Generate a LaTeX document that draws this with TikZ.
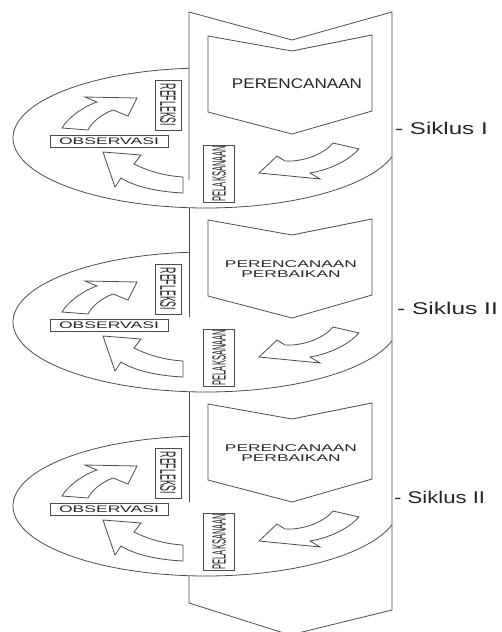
\documentclass[tikz,border=0pt]{standalone}
\usepackage{fontspec}
\setmainfont{Liberation Sans}
\usepackage{graphicx}
\definecolor{ink}{HTML}{4D4D4D}
\definecolor{txt}{HTML}{262626}
% horizontally scaled caption text: #1 = x-scale, #2 = font size, #3 = text
\newcommand{\stretchtext}[3]{\scalebox{#1}[1]{\fontsize{#2}{#2}\selectfont #3}}

\begin{document}
\begin{tikzpicture}[x=1pt, y=-1pt,
  edge/.style={draw=ink, line width=0.8pt, line join=miter},
  blockarrow/.style={edge, fill=white},
  labelbox/.style={draw=ink, line width=0.8pt, fill=white, inner sep=0pt, text=txt},
  plain/.style={inner sep=0pt, text=txt}]
\useasboundingbox (0,0) rectangle (501,632);
\clip (0,0) rectangle (501,632);

% the long chevron band that carries the cycles
\draw[edge] (189,180) -- (189,12) -- (292,40) -- (392,12) -- (392,610) -- (290,635) -- (189,603) -- (189,576);
\draw[edge] (189,208) -- (189,317);
\draw[edge] (189,392) -- (189,502);

\foreach \o/\k in {0/1,184/2,368/3}{
  % disc of the cycle (visible part only)
  \draw[edge] plot[domain=15.7:265, samples=90, smooth] ({206+193*cos(\x)},{138+\o+70*sin(\x)});
  % planning chevron
  \draw[edge] (208,{36+\o}) -- (292,{51+\o}) -- (372,{35+\o}) -- (372,{111+\o}) -- (292,{134+\o}) -- (208,{112+\o}) -- cycle;
  % arrow towards PELAKSANAAN
  \draw[blockarrow] (259,{173+\o}) -- (277,{156+\o}) -- (285,{161+\o})
     .. controls (300,{162+\o}) and (322,{156+\o}) .. (333,{143+\o})
     -- (359,{149+\o})
     .. controls (347,{162+\o}) and (328,{170+\o}) .. (310,{173+\o})
     -- (320,{179+\o}) -- cycle;
  % arrow towards OBSERVASI
  \draw[blockarrow] (103,{152+\o}) -- (141,{155+\o}) -- (134,{164+\o})
     .. controls (148,{171+\o}) and (165,{176+\o}) .. (183,{177+\o})
     -- (183,{193+\o})
     .. controls (160,{192+\o}) and (135,{187+\o}) .. (121,{178+\o})
     -- (115,{187+\o}) -- cycle;
  % arrow towards REFLEKSI
  \draw[blockarrow] (62,{128+\o})
     .. controls (67,{119+\o}) and (82,{107+\o}) .. (97,{102+\o})
     -- (85,{97+\o}) -- (137,{98+\o}) -- (128,{116+\o}) -- (113,{110+\o})
     .. controls (102,{114+\o}) and (92,{122+\o}) .. (88,{130+\o}) -- cycle;
  % stage captions
  \node[labelbox, rotate=-90, minimum width=50pt, minimum height=26pt] (refleksi-\k) at (168,{105+\o})
     {\stretchtext{0.4}{22}{REFLEKSI}};
  \node[labelbox, rotate=90, minimum width=57pt, minimum height=31pt] (pelaksanaan-\k) at (219,{173.5+\o})
     {\stretchtext{0.4}{19}{PELAKSANAAN}};
  \node[labelbox, minimum width=118pt, minimum height=11.5pt] (observasi-\k) at (109,{141.5+\o})
     {\stretchtext{1.85}{9.5}{OBSERVASI}};
}

% planning captions
\node[plain] (plan-1) at (297,84) {\stretchtext{1.22}{14}{PERENCANAAN}};
\node[plain, align=center, font=\fontsize{9.8}{10.5}\selectfont] (plan-2) at (291,269)
  {\stretchtext{1.77}{9.8}{PERENCANAAN}\\\stretchtext{1.77}{9.8}{PERBAIKAN}};
\node[plain, align=center, font=\fontsize{9.8}{10.5}\selectfont] (plan-3) at (291,453)
  {\stretchtext{1.77}{9.8}{PERENCANAAN}\\\stretchtext{1.77}{9.8}{PERBAIKAN}};

% cycle names
\node[plain, anchor=west] (siklus-1) at (395,128) {\stretchtext{1.42}{17}{- Siklus I}};
\node[plain, anchor=west] (siklus-2) at (397,308) {\stretchtext{1.44}{17}{- Siklus II}};
\node[plain, anchor=west] (siklus-3) at (394,497) {\stretchtext{1.3}{17}{- Siklus II}};
\end{tikzpicture}
\end{document}
